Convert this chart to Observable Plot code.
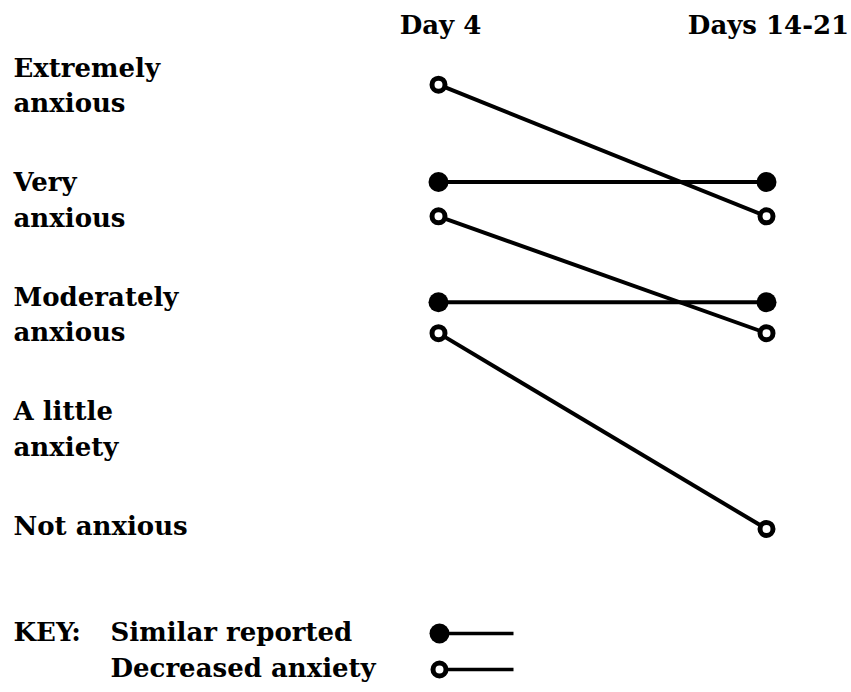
<!DOCTYPE html>
<html>
<head>
<meta charset="utf-8">
<script src="https://cdn.jsdelivr.net/npm/d3@7"></script>
<script src="https://cdn.jsdelivr.net/npm/@observablehq/plot@0.6"></script>
<style>
  html, body { margin: 0; padding: 0; background: #fff; }
  #chart svg { display: block; }
</style>
</head>
<body>
<div id="chart"></div>
<script>
// ---- data ----
const levelLabels = ["Extremely\nanxious", "Very\nanxious", "Moderately\nanxious", "A little\nanxiety", "Not anxious"];
const levelValues = [5, 4, 3, 2, 1];
const periods = ["Day 4", "Days 14-21"];
const pattern = ["Decreased anxiety", "Similar reported", "Decreased anxiety", "Similar reported", "Decreased anxiety"];
const day4 = [4.85, 4.0, 3.7, 2.95, 2.68];
const days14to21 = [3.7, 4.0, 2.68, 2.95, 0.97];
const keyLabels = ["Similar reported", "Decreased anxiety"];

// ---- derived tables ----
const levels = levelLabels.map((label, i) => ({label, value: levelValues[i]}));
const pairs = pattern.map((p, i) => ({pattern: p, from: day4[i], to: days14to21[i]}));
const points = pairs.flatMap(d => [{pattern: d.pattern, period: 0, value: d.from}, {pattern: d.pattern, period: 1, value: d.to}]);
const headers = periods.map((p, i) => ({label: p, period: i}));
const keys = keyLabels.map(k => ({label: k}));

const FONT = "DejaVu Serif";
const FS = 26;
const LH = 1.35;
const isFilled = d => d.pattern === "Similar reported";

const main = Plot.plot({
  width: 851,
  height: 600,
  marginLeft: 438,
  marginRight: 85,
  marginTop: 0,
  marginBottom: 0,
  style: {fontFamily: FONT, fontWeight: "bold", background: "white", color: "black"},
  x: {domain: [0, 1], axis: null},
  y: {domain: [1, 5], range: [525, 67], axis: null},
  marks: [
    Plot.text(levels, {
      y: "value", text: "label", frameAnchor: "left", textAnchor: "start",
      lineAnchor: "top", lineHeight: LH, fontSize: FS, fill: "black",
      dx: -425, dy: 9.5 - 0.71 * LH * FS
    }),
    Plot.text(headers, {
      x: "period", text: "label", frameAnchor: "top", lineAnchor: "bottom",
      fontSize: FS, fill: "black", dy: 33, dx: 2
    }),
    Plot.link(pairs, {x1: () => 0, x2: () => 1, y1: "from", y2: "to", stroke: "black", strokeWidth: 4}),
    Plot.dot(points.filter(isFilled), {x: "period", y: "value", r: 10, fill: "black", stroke: "none"}),
    Plot.dot(points.filter(d => !isFilled(d)), {x: "period", y: "value", r: 6.5, fill: "white", stroke: "black", strokeWidth: 5})
  ]
});

const key = Plot.plot({
  width: 851,
  height: 92,
  margin: 0,
  style: {fontFamily: FONT, fontWeight: "bold", background: "white", color: "black"},
  x: {domain: [0, 1], range: [439, 513], axis: null},
  y: {domain: keyLabels, type: "point", range: [40, 76], padding: 0, axis: null},
  marks: [
    Plot.text(["KEY:"], {
      y: () => keyLabels[0], text: d => d, frameAnchor: "left", textAnchor: "start",
      lineAnchor: "bottom", fontSize: FS, fill: "black", dx: 13
    }),
    Plot.text(keys, {
      y: "label", text: "label", frameAnchor: "left", textAnchor: "start",
      lineAnchor: "bottom", fontSize: FS, fill: "black", dx: 110
    }),
    Plot.link(keys, {x1: () => 0, x2: () => 1, y1: "label", y2: "label", stroke: "black", strokeWidth: 3.5, dy: -7}),
    Plot.dot(keys.slice(0, 1), {x: () => 0, y: "label", r: 10, fill: "black", dy: -7}),
    Plot.dot(keys.slice(1), {x: () => 0, y: "label", r: 6.5, fill: "white", stroke: "black", strokeWidth: 5, dy: -7})
  ]
});

const chart = document.getElementById("chart");
chart.appendChild(main);
chart.appendChild(key);
</script>
</body>
</html>
